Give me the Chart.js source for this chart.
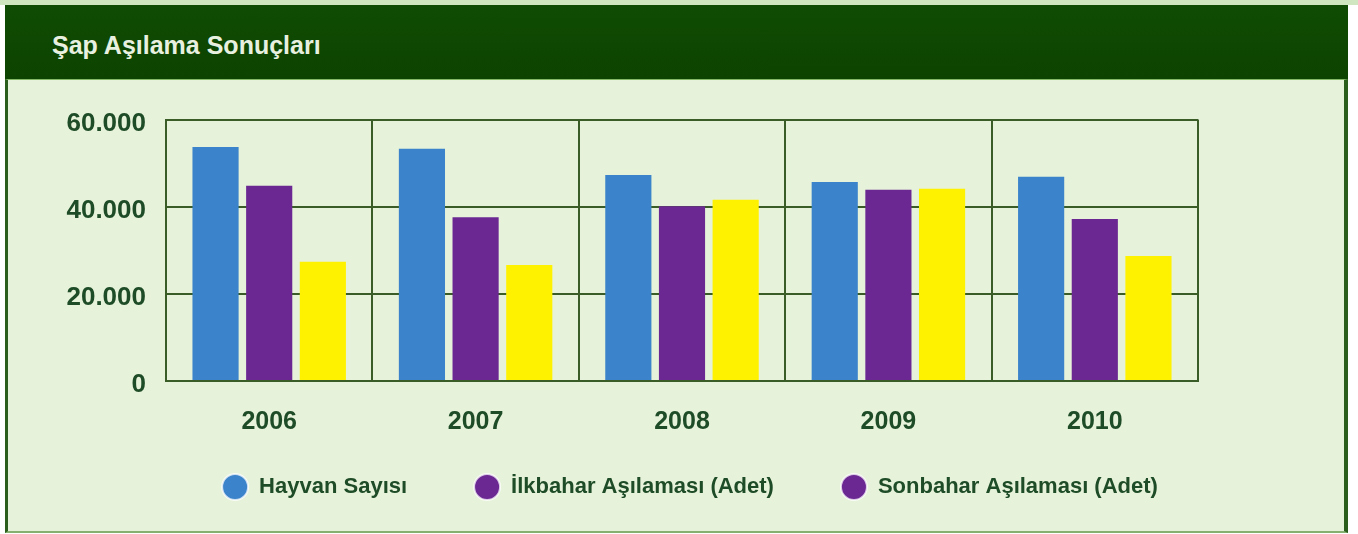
<!DOCTYPE html>
<html lang="tr">
<head>
    <meta charset="UTF-8">
    <title>Şap Aşılama Sonuçları</title>
    <script src="https://cdn.jsdelivr.net/npm/chart.js"></script>
    <style>
        body {
            margin: 0;
            background: #ffffff;
            font-family: 'Liberation Sans', Arial, sans-serif;
            overflow: hidden;
        }
        #topline {
            position: absolute;
            left: 0; top: 0;
            width: 1358px; height: 5px;
            background: #cfe6c0;
        }
        #header {
            position: absolute;
            left: 5px; top: 5px;
            width: 1343px; height: 74px;
            background: linear-gradient(#104c03, #0c4300);
        }
        #header h1 {
            position: absolute;
            left: 47px; top: 28px;
            margin: 0;
            font-size: 25px;
            line-height: 25px;
            font-weight: bold;
            color: #e8f1e0;
        }
        #panel {
            position: absolute;
            left: 5px; top: 79px;
            width: 1336px; height: 451px;
            background: #e6f2d9;
            border-top: 1px solid #86b86a;
            border-left: 3px solid #2b5e1d;
            border-right: 4px solid #2b5e1d;
            border-bottom: 2px solid #86b070;
        }
        #chart-box {
            position: absolute;
            left: 56px; top: 84px;
            width: 1268px; height: 452px;
        }
    </style>
</head>
<body>
    <div id="topline"></div>
    <div id="header"><h1>Şap Aşılama Sonuçları</h1></div>
    <div id="panel"></div>
    <div id="chart-box"><canvas id="sapChart"></canvas></div>

    <script>
        const years = ['2006', '2007', '2008', '2009', '2010'];
        const hayvanSayisi = [53700, 53300, 47300, 45700, 46900];
        const ilkbaharAsilamasi = [44800, 37600, 40100, 43900, 37200];
        const sonbaharAsilamasi = [27400, 26600, 41600, 44100, 28700];
        const seriesNames = ['Hayvan Sayısı', 'İlkbahar Aşılaması (Adet)', 'Sonbahar Aşılaması (Adet)'];
        const yTickLabels = ['0', '20.000', '40.000', '60.000'];

        const textColor = '#1e4c26';
        const gridColor = '#3a5d27';
        const fontFamily = "'Liberation Sans', Arial, sans-serif";

        // the legend keeps its wide item gaps, but sits closer to the axis labels
        const legendLift = {
            id: 'legendLift',
            afterLayout(chart) {
                chart.legend.top -= 28;
                chart.legend.bottom -= 28;
            }
        };

        const ctx = document.getElementById('sapChart').getContext('2d');
        new Chart(ctx, {
            type: 'bar',
            data: {
                labels: years,
                datasets: [
                    { label: seriesNames[0], data: hayvanSayisi, backgroundColor: '#3b83ca' },
                    { label: seriesNames[1], data: ilkbaharAsilamasi, backgroundColor: '#6b2893' },
                    { label: seriesNames[2], data: sonbaharAsilamasi, backgroundColor: '#fff200' }
                ]
            },
            plugins: [legendLift],
            options: {
                responsive: true,
                maintainAspectRatio: false,
                animation: false,
                layout: { padding: 0 },
                datasets: {
                    bar: { barPercentage: 0.86, categoryPercentage: 0.78, borderWidth: 0 }
                },
                plugins: {
                    tooltip: { enabled: false },
                    legend: {
                        position: 'bottom',
                        labels: {
                            usePointStyle: true,
                            pointStyle: 'circle',
                            pointStyleWidth: 26,
                            boxHeight: 18.4,
                            padding: 67,
                            color: textColor,
                            font: { family: fontFamily, size: 22, weight: 'bold' },
                            generateLabels: (chart) => {
                                // the original legend shows the third marker in purple too
                                const fills = ['#3b83ca', '#6b2893', '#6b2893'];
                                return chart.data.datasets.map((ds, i) => ({
                                    text: ds.label,
                                    fillStyle: fills[i],
                                    strokeStyle: 'rgba(255,255,255,0.75)',
                                    lineWidth: 2,
                                    pointStyle: 'circle',
                                    fontColor: textColor,
                                    hidden: false,
                                    datasetIndex: i
                                }));
                            }
                        }
                    }
                },
                scales: {
                    x: {
                        grid: { color: gridColor, lineWidth: 2, drawTicks: false, offset: true },
                        border: { color: gridColor, width: 2 },
                        ticks: {
                            padding: 26,
                            color: textColor,
                            font: { family: fontFamily, size: 25, weight: 'bold' }
                        },
                        afterFit: (scale) => { scale.height = 56; }
                    },
                    y: {
                        min: 0,
                        max: 60000,
                        grid: { color: gridColor, lineWidth: 2, drawTicks: false },
                        border: { color: gridColor, width: 2 },
                        ticks: {
                            stepSize: 20000,
                            padding: 20,
                            labelOffset: 4,
                            color: textColor,
                            font: { family: fontFamily, size: 26, weight: 'bold' },
                            callback: (value) => yTickLabels[Math.round(value / 20000)]
                        },
                        afterFit: (scale) => { scale.width = 110; }
                    },
                    yRight: {
                        position: 'right',
                        display: true,
                        grid: { display: false, drawTicks: false },
                        border: { display: false },
                        ticks: { display: false },
                        afterFit: (scale) => { scale.width = 126; }
                    }
                }
            }
        });
    </script>
</body>
</html>
